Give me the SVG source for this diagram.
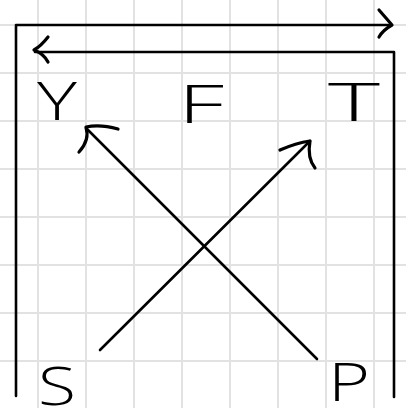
<svg xmlns="http://www.w3.org/2000/svg" width="406" height="408" viewBox="0 0 406 408">
<style>
.grid{stroke:#e2e2e2;stroke-width:2;fill:none}
.ln{stroke:#000;stroke-width:2.6;fill:none;stroke-linecap:round;stroke-linejoin:round}
.hd{stroke:#000;stroke-width:3.2;fill:none;stroke-linecap:round;stroke-linejoin:round}
.lbl{font-family:"Open Sans","Liberation Sans",sans-serif;font-weight:300;font-size:54px;fill:#000;text-anchor:middle}
</style>
<rect width="406" height="408" fill="#fff"/>
<g id="grid" class="grid">
<path d="M38,0V408M86,0V408M134,0V408M182,0V408M230,0V408M278,0V408M326,0V408M374,0V408"/>
<path d="M0,25H406M0,73H406M0,121H406M0,169H406M0,217H406M0,265H406M0,313H406M0,361H406"/>
</g>
<g id="connectors">
<path class="ln" d="M16,396 L16,25 L391,25"/>
<path class="hd" d="M379,10 Q386,18 392,25 Q383,30 379,37"/>
<path class="ln" d="M394,397 L394,52 L35,52"/>
<path class="hd" d="M48,37 Q41,46 34,50 Q44,54 48,62"/>
<path class="ln" d="M317,359 L86,128"/>
<path class="hd" d="M118,129 Q100,124 86,127 Q90,140 79,152"/>
<path class="ln" d="M100,350 L310,141"/>
<path class="hd" d="M280,150 Q296,143 310,141 Q307,158 315,168"/>
</g>
<g id="Y"><text class="lbl" x="57" y="120" textLength="40" lengthAdjust="spacingAndGlyphs">Y</text></g>
<g id="F"><text class="lbl" x="201" y="123" textLength="46" lengthAdjust="spacingAndGlyphs">F</text></g>
<g id="T"><text class="lbl" x="354" y="121" textLength="52" lengthAdjust="spacingAndGlyphs">T</text></g>
<g id="S"><text class="lbl" x="57" y="405" textLength="38" lengthAdjust="spacingAndGlyphs">S</text></g>
<g id="P"><text class="lbl" x="349" y="401" textLength="42" lengthAdjust="spacingAndGlyphs">P</text></g>
</svg>
